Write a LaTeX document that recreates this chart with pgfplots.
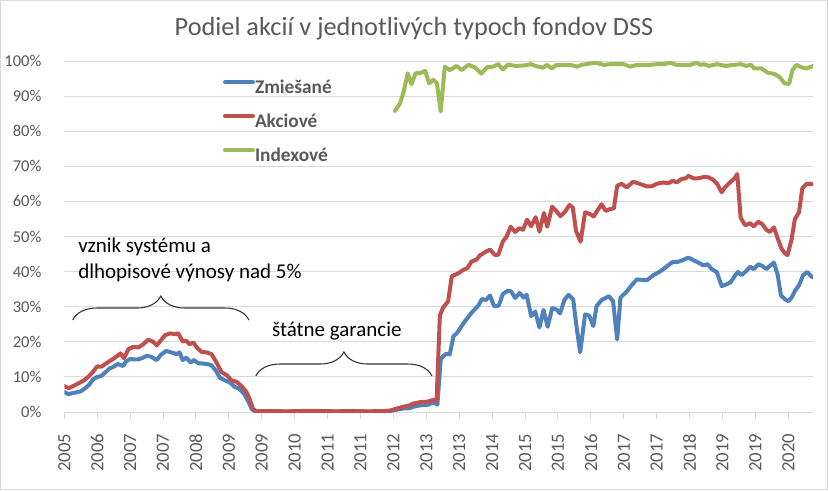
\documentclass[border=0pt]{standalone}
\usepackage{fontspec}
\setmainfont{Carlito}
\usepackage{pgfplots}
\pgfplotsset{compat=1.18}
\usetikzlibrary{decorations.pathreplacing}
\definecolor{cblue}{HTML}{4F81BD}
\definecolor{cred}{HTML}{C0504D}
\definecolor{cgreen}{HTML}{9BBB59}
\definecolor{ctext}{HTML}{595959}
\definecolor{cgrid}{HTML}{D9D9D9}
\begin{document}
\begin{tikzpicture}[x=1pt,y=1pt]
\path[use as bounding box] (-48.2,-58.5) rectangle (572.75,309);
\draw[cgrid, line width=0.75pt] (-47.8,-58.1) rectangle (572.35,308.6);
\begin{axis}[
  at={(0,0)}, anchor=south west,
  scale only axis, width=561.5pt, height=263.25pt,
  xmin=0, xmax=182, ymin=0, ymax=100,
  axis lines*=left,
  x axis line style={-, draw=cgrid, line width=0.75pt},
  y axis line style={draw=none},
  xtick={0,8,...,176},
  xticklabels={2005,2006,2007,2007,2008,2009,2009,2010,2011,2011,2012,2013,2013,2014,2015,2015,2016,2017,2017,2018,2019,2019,2020},
  ytick={0,10,...,100},
  yticklabels={0\%,10\%,20\%,30\%,40\%,50\%,60\%,70\%,80\%,90\%,100\%},
  ymajorgrids,
  major grid style={cgrid, line width=0.75pt},
  tick align=outside,
  major tick length=5pt,
  xtick style={cgrid, line width=0.75pt},
  ytick style={draw=none},
  xticklabel style={rotate=90, anchor=east, inner sep=0pt, text=ctext, font=\fontsize{14}{16}\selectfont},
  yticklabel style={anchor=east, inner sep=0pt, xshift=-12pt, text=ctext, font=\fontsize{12.4}{14}\selectfont},
  xticklabel shift=11pt,
  legend style={draw=none, fill=none, inner sep=0pt, outer sep=0pt,
    at={(0.212,0.946)}, anchor=north west,
    font=\fontsize{14.5}{17}\selectfont\bfseries, text=ctext,
    row sep=13.6pt,
    nodes={inner sep=0pt, text height=10pt, text depth=2pt},
    /tikz/every even column/.append style={column sep=2pt}},
  legend image code/.code={\draw[#1, line width=3pt] (0pt,4.5pt) -- (21pt,4.5pt);},
  legend cell align=left,
  every axis plot/.append style={line width=3pt, line join=round, line cap=round},
]
\addplot[cblue] coordinates {
(0,5.7) (1,5.1) (2,5.4) (3,5.6) (4,5.9) (5,6.7) (6,7.7) (7,9.3) (8,10.0) (9,10.3) (10,11.3) (11,12.4) (12,12.9) (13,13.7) (14.3,13.1) (15,14.4) (16,15.1) (17,15.0) (18,15.0) (19,15.4) (20,16.0) (21,15.8) (22.5,14.8) (23.4,16.2) (24.7,17.4) (26,17.0) (27.3,16.5) (28,17.0) (28.8,14.8) (29.7,15.5) (30.7,14.1) (31.5,14.8) (32.6,13.9) (33.8,13.8) (35,13.6) (35.8,13.3) (36.9,11.7) (37.8,9.8) (39.1,9.0) (40.3,8.4) (41.5,7.1) (42.5,6.7) (43.7,5.2) (44.7,3.1) (45.6,0.8) (46.4,0.2)
(50,0.1) (55,0.1) (60,0.1) (65,0.1) (70,0.1) (75,0.1) (79,0.2) (80,0.5) (82.4,1.0) (84,1.1) (84.8,1.5) (86.5,1.9) (88.5,2.1) (89.7,2.8) (90.7,2.1)
(91.5,15.0) (92.1,15.9) (92.9,16.6) (93.7,16.4) (94.6,21.6) (95.4,22.4) (97.4,25.9) (99,28.3) (100.7,30.4) (101.5,32.2) (102.5,31.9) (103.5,33.2) (104.5,30.1) (105.6,30.3) (106.6,33.6) (107.7,34.5) (108.6,34.4) (109.6,32.5) (110.7,33.9) (111.7,32.6) (112.4,33.4) (113.5,27.3) (114.5,28.6) (115.5,24.1) (116.5,29.1) (117.5,24.3) (118.6,29.6) (119.7,29.2) (120.5,28.1) (121.6,32.0) (122.6,33.4) (123.7,32.1) (124.5,24.5) (125.4,17.0) (126.6,27.8) (127.6,27.5) (128.6,24.5) (129.4,30.2) (130.6,31.9) (132.4,33.0) (133.4,31.6) (134.4,20.7) (135.2,32.6) (136.7,34.3) (137.9,36.1) (139.2,37.8) (140.8,37.6) (141.7,37.6) (143.2,39.0) (144.6,39.9) (145.6,40.7) (146.8,41.8) (148,42.8) (149.2,42.8) (150.4,43.3) (151.7,44.0) (152.9,43.3) (154.1,42.6) (155.3,41.8) (156.4,42.1) (157.4,40.7) (158.6,39.9) (159.8,35.9) (161,36.4) (162,37.0) (163,38.8) (163.8,39.9) (164.6,39.0) (165.8,40.2) (166.7,41.4) (167.6,40.7) (168.7,42.1) (169.7,41.6) (170.7,40.7) (171.5,41.6) (172.5,42.6) (173.4,39.2) (174.2,33.2) (175.2,32.1) (176,31.6) (176.8,32.6) (177.6,34.5) (178.6,36.1) (179.6,39.0) (180.6,39.9) (181.6,38.6) (182,38.4)
};
\addlegendentry{Zmiešané}
\addplot[cred] coordinates {
(0,7.4) (1,6.8) (2,7.3) (3,7.9) (4,8.5) (5,9.2) (6,10.2) (7,11.5) (8,13.0) (9,12.9) (10,13.7) (11,14.5) (12,15.2) (13,16.1) (13.7,16.7) (14.5,15.3) (15.6,17.9) (16.8,18.6) (18,18.4) (19.2,19.3) (20.4,20.6) (21.5,20.1) (22.5,19.0) (23.4,20.3) (24.5,21.9) (25.7,22.4) (26.9,22.2) (27.7,22.4) (28.8,20.1) (29.7,20.3) (30.4,19.3) (31.4,19.8) (32.2,18.4) (33.4,17.1) (34.6,17.0) (35.8,16.5) (37,14.1) (38.2,11.4) (39.5,10.5) (40.7,9.0) (41.9,8.6) (43.1,7.4) (44.3,5.7) (45.1,3.6) (45.9,0.8) (46.8,0.2)
(50,0.3) (54,0.2) (58,0.3) (62,0.3) (66,0.2) (70,0.3) (74,0.2) (78,0.3) (79.5,0.5) (80.5,0.9) (82.4,1.5) (84,1.9) (84.8,2.4) (86.5,2.8) (88.5,3.0) (89.7,3.5) (90.5,3.2)
(91.3,27.5) (92.1,29.8) (93.3,31.5) (94.2,38.7) (95.6,39.4) (97,40.5) (98,41.0) (99,42.9) (100.2,43.4) (101,44.6) (102.4,45.6) (103.5,46.3) (104.6,44.8) (105.5,44.8) (106.6,48.6) (107.5,49.9) (108.5,52.8) (109.6,51.3) (110.7,52.4) (111.5,51.9) (112.5,54.8) (113.5,52.9) (114.6,55.5) (115.5,51.4) (116.6,56.7) (117.4,52.8) (118.6,58.5) (119.7,57.1) (120.6,55.8) (121.7,57.0) (122.8,59.0) (123.6,58.3) (124.4,51.6) (125.5,48.5) (126.6,56.9) (127.8,56.4) (128.7,55.7) (129.8,57.8) (130.6,59.2) (131.6,57.3) (132.6,57.8) (133.6,58.0) (134.4,64.5) (135.5,65.0) (136.7,64.0) (138.3,65.6) (139.9,65.0) (141.6,64.3) (142.8,64.3) (144,65.0) (145.6,65.4) (146.8,65.2) (148,65.9) (148.8,65.4) (150.1,66.4) (151.1,66.6) (151.7,67.3) (152.9,66.6) (154.1,66.6) (155.3,66.9) (156.5,66.9) (157.7,66.2) (158.7,65.0) (159.8,62.6) (160.6,64.0) (161.8,65.4) (162.8,66.4) (163.6,67.8) (164.4,55.4) (165.5,53.2) (166.7,53.8) (167.6,52.9) (168.7,54.2) (169.7,53.5) (170.7,51.9) (171.5,51.3) (172.5,52.6) (173.5,49.2) (174.4,46.4) (175.2,45.2) (175.8,44.7) (176.8,49.2) (177.6,55.0) (178.6,56.9) (179.4,63.7) (180.4,65.0) (182,65.0)
};
\addlegendentry{Akciové}
\addplot[cgreen] coordinates {
(80.4,85.8) (81.6,87.9) (82.4,90.8) (83.5,96.5) (84.4,93.4) (85.4,96.5) (86.6,96.6) (87.7,97.2) (88.7,93.6) (89.7,94.7) (90.6,93.6) (91.5,85.6) (92.5,98.4) (93.7,97.4) (95.4,98.6) (96.6,97.4) (98.2,98.9) (99.8,98.2) (101.4,96.4) (102.7,98.2) (104.3,98.4) (105.5,99.1) (106.6,97.6) (107.9,99.0) (109.6,98.6) (111.6,98.7) (113.4,99.1) (114.8,98.5) (116.4,98.1) (117.3,98.9) (118.5,97.9) (119.7,98.9) (123,98.9) (124.6,98.4) (125.8,98.9) (127.8,99.3) (129.4,99.5) (131.1,98.9) (132.7,99.1) (134.3,99.1) (135.9,99.1) (137.6,98.4) (139.2,98.9) (142.4,98.9) (144.1,99.1) (145.7,99.1) (147.3,99.5) (148.9,98.9) (152.2,98.9) (153.7,99.5) (154.7,98.9) (155.5,99.1) (156.7,98.6) (158.7,99.1) (160.8,98.6) (162.8,98.9) (164.5,99.1) (165.7,98.6) (166.9,98.9) (167.7,97.9) (169.4,97.9) (171,96.7) (172.6,96.3) (173.9,95.4) (175.1,93.6) (176.2,93.5) (177,97.4) (178,98.9) (179.2,98.2) (180.4,97.9) (182,98.6)
};
\addlegendentry{Indexové}
\end{axis}
\node[anchor=base, text=ctext, font=\fontsize{19.7}{23}\selectfont, inner sep=0pt] at (262.3,282.75) {Podiel akcií v jednotlivých typoch fondov DSS};
\begin{scope}[font=\fontsize{15.75}{19}\selectfont]
\node[anchor=base west, inner sep=0pt] at (10.3,119.5) {vznik systému a};
\node[anchor=base west, inner sep=0pt] at (10.3,100.3) {dlhopisové výnosy nad 5\%};
\node[anchor=base west, inner sep=0pt] at (155.6,56.5) {štátne garancie};
\end{scope}
\draw[black!80, line width=0.8pt, decorate, decoration={brace, amplitude=18pt}] (6.3,69) -- (138.5,69);
\draw[black!80, line width=0.8pt, decorate, decoration={brace, amplitude=18pt}] (143.6,27) -- (275.8,27);
\end{tikzpicture}
\end{document}
